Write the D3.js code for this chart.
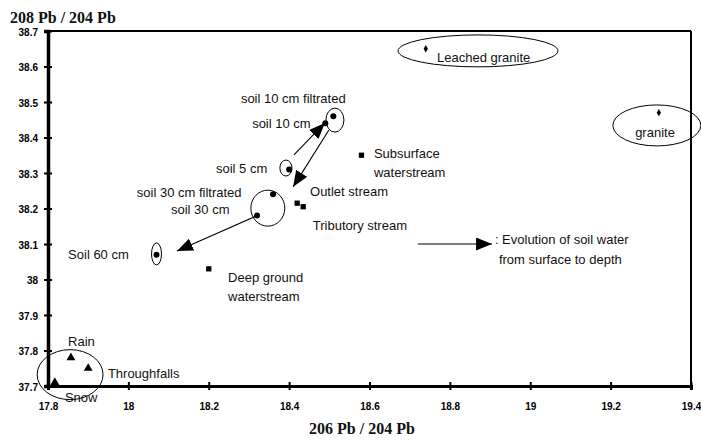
<!DOCTYPE html>
<html>
<head>
<meta charset="utf-8">
<script src="https://cdn.jsdelivr.net/npm/d3@7"></script>
<style>
  body { margin: 0; background: #fff; }
  svg { display: block; }
  .lbl { font-family: "Liberation Sans", Arial, sans-serif; font-size: 13px; fill: #111; }
  .tick text { font-family: "Liberation Sans", Arial, sans-serif; font-size: 10px; font-weight: bold; fill: #000; }
  .title { font-family: "Liberation Serif", "Times New Roman", serif; font-size: 16px; font-weight: bold; fill: #111; }
</style>
</head>
<body>
<div id="chart"></div>
<script>
// Pb isotope ratios chart
(function () {
  ///////////////////////////////////////////////////////////// ! Data
  const xTicks = [17.8, 18, 18.2, 18.4, 18.6, 18.8, 19, 19.2, 19.4];
  const xTickLabels = ["17.8", "18", "18.2", "18.4", "18.6", "18.8", "19", "19.2", "19.4"];
  const yTicks = [37.7, 37.8, 37.9, 38, 38.1, 38.2, 38.3, 38.4, 38.5, 38.6, 38.7];
  const yTickLabels = ["37.7", "37.8", "37.9", "38", "38.1", "38.2", "38.3", "38.4", "38.5", "38.6", "38.7"];

  // rocks (small diamonds)
  const rocks = [
    { name: "Leached granite", x: 18.74, y: 38.65 },
    { name: "granite", x: 19.32, y: 38.47 },
  ];
  // soil waters (dots)
  const soils = [
    { name: "soil 10 cm filtrated", x: 18.51, y: 38.46 },
    { name: "soil 10 cm", x: 18.49, y: 38.44 },
    { name: "soil 5 cm", x: 18.40, y: 38.31 },
    { name: "soil 30 cm filtrated", x: 18.36, y: 38.24 },
    { name: "soil 30 cm", x: 18.32, y: 38.18 },
    { name: "Soil 60 cm", x: 18.07, y: 38.07 },
  ];
  // streams (squares)
  const streams = [
    { name: "Subsurface waterstream", x: 18.58, y: 38.35 },
    { name: "Outlet stream", x: 18.42, y: 38.215 },
    { name: "Tributory stream", x: 18.435, y: 38.205 },
    { name: "Deep ground waterstream", x: 18.20, y: 38.03 },
  ];
  // precipitation (triangles)
  const precip = [
    { name: "Rain", x: 17.857, y: 37.78 },
    { name: "Throughfalls", x: 17.90, y: 37.75 },
    { name: "Snow", x: 17.817, y: 37.71 },
  ];

  // grouping ellipses: centre and radii in data units
  const ellipses = [
    { cx: 18.870, cy: 38.644, rx: 0.199, ry: 0.045 },
    { cx: 19.315, cy: 38.434, rx: 0.1095, ry: 0.0577 },
    { cx: 18.514, cy: 38.449, rx: 0.0224, ry: 0.0338 },
    { cx: 18.392, cy: 38.314, rx: 0.015, ry: 0.0225 },
    { cx: 18.347, cy: 38.201, rx: 0.0423, ry: 0.0507 },
    { cx: 18.070, cy: 38.072, rx: 0.0124, ry: 0.031 },
    { cx: 17.855, cy: 37.732, rx: 0.082, ry: 0.0704 },
  ];

  // evolution arrows (data units)
  const arrows = [
    { x1: 18.412, y1: 38.351, x2: 18.489, y2: 38.441 },
    { x1: 18.499, y1: 38.421, x2: 18.410, y2: 38.261 },
    { x1: 18.318, y1: 38.179, x2: 18.121, y2: 38.080 },
    { x1: 18.72, y1: 38.10, x2: 18.905, y2: 38.10 },
  ];

  // text annotations, anchored at left baseline (data units)
  const labels = [
    { text: "Leached granite", x: 18.768, y: 38.613 },
    { text: "granite", x: 19.261, y: 38.401 },
    { text: "Subsurface", x: 18.611, y: 38.342 },
    { text: "waterstream", x: 18.611, y: 38.289 },
    { text: "soil 10 cm filtrated", x: 18.280, y: 38.497 },
    { text: "soil 10 cm", x: 18.308, y: 38.427 },
    { text: "soil 5 cm", x: 18.218, y: 38.300 },
    { text: "Outlet stream", x: 18.452, y: 38.235 },
    { text: "soil 30 cm filtrated", x: 18.021, y: 38.232 },
    { text: "soil 30 cm", x: 18.106, y: 38.185 },
    { text: "Tributory stream", x: 18.459, y: 38.139 },
    { text: "Soil 60 cm", x: 17.850, y: 38.058 },
    { text: "Deep ground", x: 18.248, y: 37.992 },
    { text: "waterstream", x: 18.248, y: 37.939 },
    { text: "Rain", x: 17.850, y: 37.813 },
    { text: "Throughfalls", x: 17.949, y: 37.723 },
    { text: "Snow", x: 17.842, y: 37.656 },
    { text: ": Evolution of soil water", x: 18.912, y: 38.100 },
    { text: "from surface to depth", x: 18.922, y: 38.044 },
  ];

  ///////////////////////////////////////////////////////////// ! Setup
  const fullWidth = 701;
  const fullHeight = 444;
  const margin = { top: 31, right: 10, bottom: 58, left: 48 };
  const width = fullWidth - margin.left - margin.right;
  const height = fullHeight - margin.top - margin.bottom;

  const root = d3.select("#chart").append("svg")
    .attr("width", fullWidth)
    .attr("height", fullHeight);

  root.append("defs").append("marker")
    .attr("id", "head")
    .attr("markerUnits", "userSpaceOnUse")
    .attr("viewBox", "0 0 16 13")
    .attr("refX", 16)
    .attr("refY", 6.5)
    .attr("markerWidth", 16)
    .attr("markerHeight", 13)
    .attr("orient", "auto")
    .append("path")
    .attr("d", "M0,0 L16,6.5 L0,13 Z")
    .attr("fill", "#000");

  const svg = root.append("g")
    .attr("transform", `translate(${margin.left},${margin.top})`);

  ///////////////////////////////////////////////////////////// ! Scales
  const xScale = d3.scaleLinear().domain([17.8, 19.4]).range([0, width]);
  const yScale = d3.scaleLinear().domain([37.7, 38.7]).range([height, 0]);

  ///////////////////////////////////////////////////////////// ! Frame and axes
  // thin top / right border
  svg.append("line").attr("x1", 0).attr("x2", width).attr("y1", 0).attr("y2", 0)
    .attr("stroke", "#000").attr("stroke-width", 2);
  svg.append("line").attr("x1", width).attr("x2", width).attr("y1", 0).attr("y2", height)
    .attr("stroke", "#000").attr("stroke-width", 2);

  const xAxis = svg.append("g")
    .attr("transform", `translate(0,${height})`)
    .call(d3.axisBottom(xScale).tickValues(xTicks)
      .tickFormat((d, i) => xTickLabels[i]).tickSize(4).tickPadding(13));
  xAxis.select(".domain").attr("stroke-width", 3);
  xAxis.selectAll(".tick line").attr("y1", -4).attr("stroke-width", 2);

  const yAxis = svg.append("g")
    .call(d3.axisLeft(yScale).tickValues(yTicks)
      .tickFormat((d, i) => yTickLabels[i]).tickSize(4).tickPadding(6));
  yAxis.select(".domain").attr("stroke-width", 3.5);
  yAxis.selectAll(".tick line").attr("x1", 4).attr("stroke-width", 2);
  yAxis.selectAll(".tick text").attr("dy", "0.4em");

  // axis titles
  root.append("text").attr("class", "title")
    .attr("x", 10).attr("y", 23).text("208 Pb / 204 Pb");
  root.append("text").attr("class", "title")
    .attr("x", 362).attr("y", 434)
    .attr("text-anchor", "middle").text("206 Pb / 204 Pb");

  ///////////////////////////////////////////////////////////// ! Ellipses and arrows
  svg.selectAll("ellipse").data(ellipses).enter().append("ellipse")
    .attr("cx", (d) => xScale(d.cx))
    .attr("cy", (d) => yScale(d.cy))
    .attr("rx", (d) => xScale(d.cx + d.rx) - xScale(d.cx))
    .attr("ry", (d) => yScale(d.cy - d.ry) - yScale(d.cy))
    .attr("fill", "none")
    .attr("stroke", "#000")
    .attr("stroke-width", 1);

  svg.selectAll(".arrow").data(arrows).enter().append("line")
    .attr("class", "arrow")
    .attr("x1", (d) => xScale(d.x1))
    .attr("y1", (d) => yScale(d.y1))
    .attr("x2", (d) => xScale(d.x2))
    .attr("y2", (d) => yScale(d.y2))
    .attr("stroke", "#000")
    .attr("stroke-width", 1.1)
    .attr("marker-end", "url(#head)");

  ///////////////////////////////////////////////////////////// ! Points
  svg.selectAll(".rock").data(rocks).enter().append("path")
    .attr("class", "rock")
    .attr("transform", (d) => `translate(${xScale(d.x)},${yScale(d.y)})`)
    .attr("d", d3.symbol(d3.symbolDiamond, 16))
    .attr("fill", "#000");

  svg.selectAll(".soil").data(soils).enter().append("circle")
    .attr("class", "soil")
    .attr("cx", (d) => xScale(d.x))
    .attr("cy", (d) => yScale(d.y))
    .attr("r", 3)
    .attr("fill", "#000");

  svg.selectAll(".stream").data(streams).enter().append("path")
    .attr("class", "stream")
    .attr("transform", (d) => `translate(${xScale(d.x)},${yScale(d.y)})`)
    .attr("d", d3.symbol(d3.symbolSquare, 28))
    .attr("fill", "#000");

  svg.selectAll(".precip").data(precip).enter().append("path")
    .attr("class", "precip")
    .attr("transform", (d) => `translate(${xScale(d.x)},${yScale(d.y)})`)
    .attr("d", d3.symbol(d3.symbolTriangle, 34))
    .attr("fill", "#000");

  ///////////////////////////////////////////////////////////// ! Labels
  svg.selectAll(".lbl").data(labels).enter().append("text")
    .attr("class", "lbl")
    .attr("x", (d) => xScale(d.x))
    .attr("y", (d) => yScale(d.y))
    .text((d) => d.text);
})();
</script>
</body>
</html>
